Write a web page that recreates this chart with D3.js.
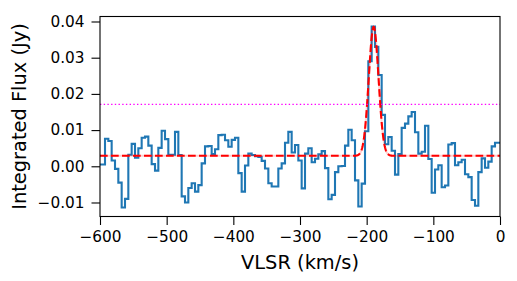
<!DOCTYPE html>
<html>
<head>
<meta charset="utf-8">
<script src="https://cdn.jsdelivr.net/npm/d3@7"></script>
<style>
  html, body { margin: 0; padding: 0; background: #fff; }
  svg { display: block; }
  text { font-family: "DejaVu Sans", sans-serif; fill: #000; }
</style>
</head>
<body>
<div id="chart"></div>
<script>
// ---- data ----
const velocity = [
  -600,-595,-590,-585,-580,-575,-570,-565,-560,-555,
  -550,-545,-540,-535,-530,-525,-520,-515,-510,-505,
  -500,-495,-490,-485,-480,-475,-470,-465,-460,-455,
  -450,-445,-440,-435,-430,-425,-420,-415,-410,-405,
  -400,-395,-390,-385,-380,-375,-370,-365,-360,-355,
  -350,-345,-340,-335,-330,-325,-320,-315,-310,-305,
  -300,-295,-290,-285,-280,-275,-270,-265,-260,-255,
  -250,-245,-240,-235,-230,-225,-220,-215,-210,-205,
  -200,-195,-190,-185,-180,-175,-170,-165,-160,-155,
  -150,-145,-140,-135,-130,-125,-120,-115,-110,-105,
  -100,-95,-90,-85,-80,-75,-70,-65,-60,-55,
  -50,-45,-40,-35,-30,-25,-20,-15,-10,-5,
  0
];
const flux = [
  0.0005, 0.0005, 0.0076, 0.0070, 0.0016, -0.0007, -0.0045, -0.0114, -0.0090, 0.0032,
  0.0062, 0.0024, 0.0050, 0.0079, 0.0082, 0.0057, 0.0006, -0.0012, 0.0051, 0.0098,
  0.0075, 0.0032, 0.0032, 0.0095, 0.0031, -0.0083, -0.0100, -0.0060, -0.0047, -0.0070,
  -0.0052, 0.0008, 0.0055, 0.0056, 0.0034, 0.0047, 0.0086, 0.0087, 0.0072, 0.0054,
  0.0073, 0.0079, -0.0019, -0.0070, 0.0002, 0.0035, 0.0031, 0.0028, 0.0026, 0.0015,
  -0.0006, -0.0047, -0.0056, -0.0056, -0.0006, 0.0008, 0.0065, 0.0095, 0.0038, 0.0059,
  0.0016, -0.0061, 0.0035, 0.0050, 0.0011, 0.0021, 0.0033, 0.0042, -0.0005, -0.0091,
  -0.0079, -0.0016, 0.0000, 0.0001, 0.0057, 0.0101, 0.0072, -0.0039, -0.0111, -0.0048,
  0.0097, 0.0290, 0.0386, 0.0330, 0.0252, 0.0142, 0.0061, 0.0081, 0.0043, -0.0023,
  0.0034, 0.0106, 0.0118, 0.0138, 0.0150, 0.0094, 0.0035, 0.0040, 0.0112, 0.0020,
  -0.0073, -0.0009, 0.0003, -0.0058, -0.0053, 0.0060, 0.0064, 0.0003, 0.0011, 0.0018,
  -0.0022, -0.0030, -0.0093, -0.0109, -0.0016, 0.0022, -0.0004, 0.0013, 0.0055, 0.0065,
  0.0065
];
// Gaussian fit parameters (amplitude above baseline, centre, sigma, baseline)
const fitAmplitude = 0.0356;
const fitCenter = -189.5;
const fitSigma = 7.3;
const fitBaseline = 0.0029;
// detection threshold line
const threshold = 0.0171;

const xTicks = [-600, -500, -400, -300, -200, -100, 0];
const yTicks = [-0.01, 0.00, 0.01, 0.02, 0.03, 0.04];
const xLabel = "VLSR (km/s)";
const yLabel = "Integrated Flux (Jy)";

// ---- layout ----
const W = 517, H = 281;
const m = { left: 100, right: 17, top: 16.5, bottom: 64.5 };
const iw = W - m.left - m.right, ih = H - m.top - m.bottom;

const svg = d3.select("#chart").append("svg")
  .attr("width", W).attr("height", H)
  .style("background", "#fff");

const x = d3.scaleLinear().domain([-600, 0]).range([m.left, m.left + iw]);
const y = d3.scaleLinear().domain([-0.01387, 0.04138]).range([m.top + ih, m.top]);

const g = svg.append("g");

// spectrum (mid step)
const pts = velocity.map((v, i) => [v, flux[i]]);
g.append("path")
  .datum(pts)
  .attr("fill", "none")
  .attr("stroke", "#1f77b4")
  .attr("stroke-width", 2.1)
  .attr("stroke-linejoin", "miter")
  .attr("d", d3.line().x(d => x(d[0])).y(d => y(d[1])).curve(d3.curveStep));

// gaussian fit
const fitX = d3.range(-600, 0.01, 0.5);
const fitPts = fitX.map(v => [v, fitBaseline + fitAmplitude * Math.exp(-0.5 * Math.pow((v - fitCenter) / fitSigma, 2))]);
const fitLine = d3.line().x(d => x(d[0])).y(d => y(d[1]));
g.append("path")
  .datum(fitPts)
  .attr("fill", "none")
  .attr("stroke", "#ff0000")
  .attr("stroke-opacity", 0.18)
  .attr("stroke-width", 2.1)
  .attr("d", fitLine);
g.append("path")
  .datum(fitPts)
  .attr("fill", "none")
  .attr("stroke", "#ff0000")
  .attr("stroke-width", 2.1)
  .attr("stroke-dasharray", "7.7,3.3")
  .attr("d", fitLine);

// threshold line
g.append("line")
  .attr("x1", x(-600)).attr("x2", x(0))
  .attr("y1", y(threshold)).attr("y2", y(threshold))
  .attr("stroke", "#ff00ff")
  .attr("stroke-width", 1.4)
  .attr("stroke-dasharray", "1.4,2.3");

// frame
svg.append("rect")
  .attr("x", m.left).attr("y", m.top)
  .attr("width", iw).attr("height", ih)
  .attr("fill", "none").attr("stroke", "#000").attr("stroke-width", 1.1);

// axes
const fmtX = d => d3.format("d")(d).replace("-", "\u2212");
const fmtY = d => d3.format(".2f")(d).replace("-", "\u2212");

const xAxis = svg.append("g")
  .attr("transform", `translate(0,${m.top + ih})`)
  .call(d3.axisBottom(x).tickValues(xTicks).tickFormat(fmtX).tickSize(8.5).tickPadding(6));
const yAxis = svg.append("g")
  .attr("transform", `translate(${m.left},0)`)
  .call(d3.axisLeft(y).tickValues(yTicks).tickFormat(fmtY).tickSize(8.5).tickPadding(7));

[xAxis, yAxis].forEach(a => {
  a.select(".domain").remove();
  a.selectAll(".tick line").attr("stroke", "#000").attr("stroke-width", 1.1);
  a.selectAll(".tick text").attr("font-family", "DejaVu Sans").attr("font-size", "15.3px").attr("fill", "#000");
});

svg.append("text")
  .attr("x", m.left + iw / 2).attr("y", 268.5)
  .attr("text-anchor", "middle")
  .attr("font-size", "19.4px")
  .text(xLabel);

svg.append("text")
  .attr("transform", `translate(25.5,${m.top + ih / 2}) rotate(-90)`)
  .attr("text-anchor", "middle")
  .attr("font-size", "19.4px")
  .text(yLabel);
</script>
</body>
</html>
